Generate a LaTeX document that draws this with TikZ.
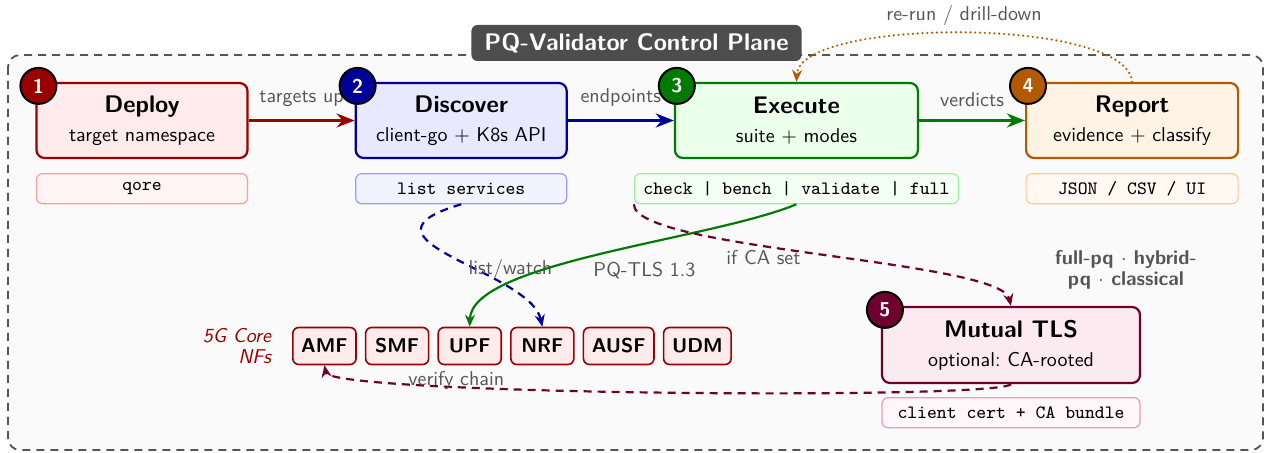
\documentclass[tikz,border=0pt]{standalone}
\usepackage{fontspec}
\renewcommand{\familydefault}{\sfdefault}
\usetikzlibrary{positioning,arrows.meta,calc}
\definecolor{deployC}{HTML}{990000}\definecolor{deployF}{HTML}{FFEBEB}
\definecolor{deployS}{HTML}{FF9E9E}\definecolor{deploySF}{HTML}{FFF5F5}
\definecolor{discC}{HTML}{000099}\definecolor{discF}{HTML}{E8E8FF}
\definecolor{discS}{HTML}{9C9CFF}\definecolor{discSF}{HTML}{F3F3FF}
\definecolor{execC}{HTML}{007A00}\definecolor{execF}{HTML}{EBFFEB}
\definecolor{execS}{HTML}{9CEE9C}\definecolor{execSF}{HTML}{F4FFF4}
\definecolor{repC}{HTML}{B35900}\definecolor{repF}{HTML}{FFF3E6}
\definecolor{repS}{HTML}{FFCC99}\definecolor{repSF}{HTML}{FFF9F2}
\definecolor{mtlsC}{HTML}{6E0030}\definecolor{mtlsF}{HTML}{FBEAF0}
\definecolor{mtlsS}{HTML}{EE9AB6}\definecolor{mtlsSF}{HTML}{FFF7FA}
\definecolor{lblC}{HTML}{555555}\definecolor{planeF}{HTML}{FAFAFA}
\definecolor{tabF}{HTML}{4D4D4D}
\begin{document}
\begin{tikzpicture}[x=0.5pt,y=-0.5pt,
  stage/.style 2 args={draw=#1,fill=#2,line width=1.1pt,rounded corners=4pt,minimum height=37.5pt,align=center},
  subbox/.style 2 args={draw=#1,fill=#2,line width=0.6pt,rounded corners=3pt,minimum height=15pt,inner xsep=4.5pt,font=\ttfamily\fontsize{9.4}{11}\selectfont},
  badge/.style={circle,draw=black,fill=#1,line width=1pt,minimum size=18pt,inner sep=0pt,text=white,font=\bfseries},
  nf/.style={draw=deployC,fill=deployF,line width=0.8pt,rounded corners=3pt,minimum height=18.5pt,minimum width=31.5pt,inner xsep=4.2pt,font=\bfseries},
  lbl/.style={text=lblC},
  flow/.style={draw=#1,line width=1.5pt,-{Stealth[length=9pt,width=7pt]}},
  link/.style={draw=#1,line width=1.1pt,dash pattern=on 4pt off 3pt,-{Stealth[length=6pt,width=5pt]}}]
\path[fill=white,use as bounding box] (0,0) rectangle (1268,453);
\draw[lblC,fill=planeF,line width=0.9pt,dash pattern=on 4pt off 3pt,rounded corners=6pt] (8,55) rectangle (1263,450);
\node[fill=tabF,text=white,rounded corners=3pt,inner xsep=6.5pt,minimum height=18pt,font=\large\bfseries] (tab) at (636.5,43) {PQ-Validator Control Plane};

\node[stage={deployC}{deployF},minimum width=105.5pt] (deploy) at (142,120.5) {{\large\bfseries Deploy}\\[2.5pt]target namespace};
\node[stage={discC}{discF},minimum width=105.5pt,right=53pt of deploy] (discover) {{\large\bfseries Discover}\\[2.5pt]client-go $+$ K8s API};
\node[stage={execC}{execF},minimum width=121.5pt,right=53pt of discover] (execute) {{\large\bfseries Execute}\\[2.5pt]suite $+$ modes};
\node[stage={repC}{repF},minimum width=106pt,right=53pt of execute] (report) {{\large\bfseries Report}\\[2.5pt]evidence $+$ classify};

\node[subbox={deployS}{deploySF},minimum width=105.5pt,below=7pt of deploy] (qore) {qore};
\node[subbox={discS}{discSF},minimum width=105.5pt,below=7pt of discover] (lsv) {list services};
\node[subbox={execS}{execSF},below=7pt of execute] (chk) {check | bench | validate | full};
\node[subbox={repS}{repSF},minimum width=106pt,below=7pt of report] (fmt) {JSON / CSV / UI};

\node[nf,anchor=west] (amf) at (292,346) {AMF};
\node[nf,right=4pt of amf] (smf) {SMF};
\node[nf,right=4pt of smf] (upf) {UPF};
\node[nf,right=4pt of upf] (nrf) {NRF};
\node[nf,right=4pt of nrf] (ausf) {AUSF};
\node[nf,right=4pt of ausf] (udm) {UDM};
\node[align=right,text=deployC,font=\itshape,left=7pt of amf] (nfs) {5G Core\\[-1.5pt]NFs};

\node[stage={mtlsC}{mtlsF},minimum width=129pt,minimum height=38pt] (mtls) at (1011,345) {{\large\bfseries Mutual TLS}\\[2.5pt]optional:\ CA-rooted};
\node[subbox={mtlsS}{mtlsSF},minimum width=129pt,below=6.5pt of mtls] (cert) {client cert + CA bundle};
\node[lbl,font=\bfseries,align=center] (modes) at (1126,270) {full-pq $\cdot$ hybrid-\\[-1.5pt]pq $\cdot$ classical};

\draw[flow=deployC] (deploy) -- (discover) node[midway,above=3pt,lbl] {targets up};
\draw[flow=discC] (discover) -- (execute) node[midway,above=3pt,lbl] {endpoints};
\draw[flow=execC] (execute) -- (report) node[midway,above=3pt,lbl] {verdicts};
\draw[repC,line width=1.2pt,line cap=round,dash pattern=on 0pt off 2.4pt,-{Stealth[length=6pt,width=5pt]}] (report.north) .. controls (1128,17) and (800,17) .. (execute.north) node[lbl,pos=0.5,above=0pt] {re-run / drill-down};
\draw[link=discC] (lsv.south) .. controls (340,240) and (530,270) .. (nrf.north) node[lbl,pos=0.6,anchor=west,inner sep=1pt,xshift=-4pt] {list/watch};
\draw[execC,line width=1.1pt,-{Stealth[length=6pt,width=5pt]}] (chk.south) .. controls (710,240) and (471,262) .. (upf.north) node[lbl,pos=0.4,below=5pt] {PQ-TLS 1.3};
\draw[link=mtlsC] (chk.south west) .. controls (634,250) and (1000,260) .. (mtls.north) node[lbl,pos=0.4,below=-2pt] {if CA set};
\draw[link=mtlsC] (mtls.south) .. controls (1000,400) and (330,395) .. (amf.south) node[lbl,pos=0.72,yshift=2pt] {verify chain};

\node[badge=deployC] (b1) at ($(deploy.north west)+(3,4)$) {1};
\node[badge=discC] (b2) at ($(discover.north west)+(3,4)$) {2};
\node[badge=execC] (b3) at ($(execute.north west)+(3,4)$) {3};
\node[badge=repC] (b4) at ($(report.north west)+(3,4)$) {4};
\node[badge=mtlsC] (b5) at ($(mtls.north west)+(4,4)$) {5};
\end{tikzpicture}
\end{document}
